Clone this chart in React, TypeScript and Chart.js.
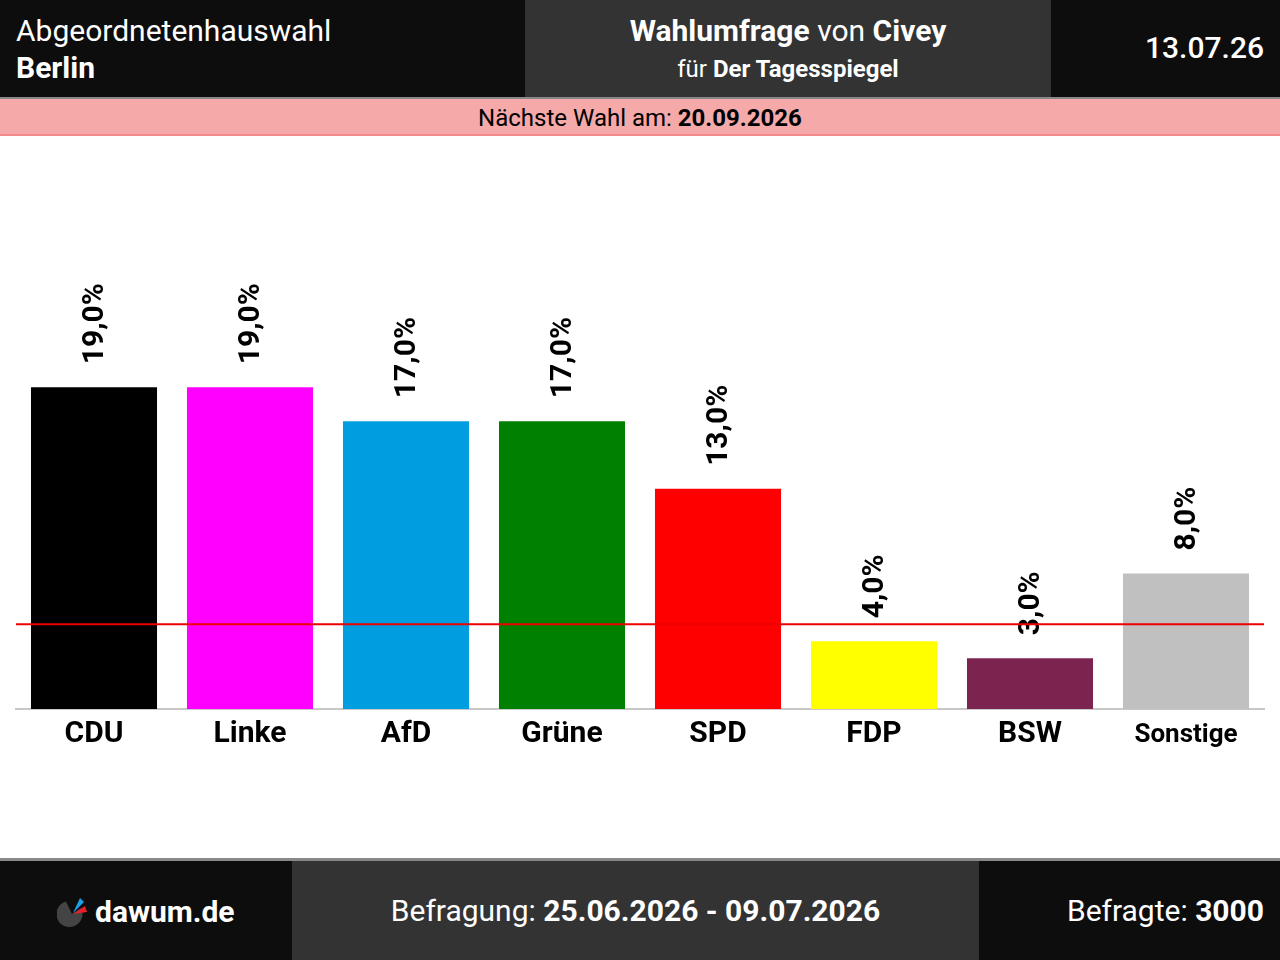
import React, { useEffect, useRef } from "react";
import { Chart, registerables } from "chart.js";

Chart.register(...registerables);

const parties = ["CDU", "Linke", "AfD", "Grüne", "SPD", "FDP", "BSW", "Sonstige"];
const shares = [19, 19, 17, 17, 13, 4, 3, 8];
const barColors = ["#000000", "#ff00ff", "#009ee0", "#008000", "#ff0000", "#ffff00", "#7b2450", "#c0c0c0"];
const threshold = 5;
const yMax = 30;

const FONT = "Roboto, 'Noto Sans', sans-serif";

const fmt = (v: number) => v.toFixed(1).replace(".", ",") + "%";

const labelsPlugin = {
  id: "valueLabels",
  afterDatasetsDraw(chart: any) {
    const ctx = chart.ctx;
    const meta = chart.getDatasetMeta(0);
    ctx.save();
    ctx.fillStyle = "#000";
    ctx.font = `bold 30px ${FONT}`;
    ctx.textAlign = "left";
    ctx.textBaseline = "middle";
    meta.data.forEach((bar: any, i: number) => {
      ctx.save();
      ctx.translate(bar.x, bar.y - 23);
      ctx.rotate(-Math.PI / 2);
      ctx.fillText(fmt(shares[i]), 0, 1);
      ctx.restore();
    });
    // 5% threshold
    const y = chart.scales.y.getPixelForValue(threshold);
    const { left, right } = chart.chartArea;
    ctx.strokeStyle = "#ee0000";
    ctx.lineWidth = 2;
    ctx.beginPath();
    ctx.moveTo(left, y);
    ctx.lineTo(right, y);
    ctx.stroke();
    ctx.restore();
  },
};

const PollChart: React.FC = () => {
  const ref = useRef<HTMLCanvasElement | null>(null);

  useEffect(() => {
    if (!ref.current) return;
    const chart = new Chart(ref.current, {
      type: "bar",
      data: {
        labels: parties,
        datasets: [
          {
            data: shares,
            backgroundColor: barColors,
            categoryPercentage: 1,
            barPercentage: 0.808,
          },
        ],
      },
      options: {
        animation: false,
        responsive: false,
        layout: { padding: { left: 16, right: 16, top: 64, bottom: 96 } },
        plugins: { legend: { display: false }, tooltip: { enabled: false } },
        scales: {
          y: { display: false, min: 0, max: yMax },
          x: {
            grid: { display: false, drawTicks: false },
            border: { color: "#c8c8c8", width: 2 },
            ticks: {
              color: "#000",
              padding: 7,
              maxRotation: 0,
              font: (c: any) =>
                c.index === 7
                  ? { family: FONT, size: 26, weight: "bold", lineHeight: 1.5 }
                  : { family: FONT, size: 30, weight: "bold" },
            },
          },
        },
      },
      plugins: [labelsPlugin],
    });
    return () => chart.destroy();
  }, []);

  return <canvas ref={ref} width={1280} height={721} style={{ position: "absolute", left: 0, top: 137 }} />;
};

const Logo = () => (
  <svg width="32" height="34" viewBox="0 0 32 34" style={{ position: "absolute", left: 57, top: 896 }}>
    <path d="M15 18 L24 12 A13 13 0 1 1 9 5.5 Z" fill="#444" />
    <path d="M16 17 L23 2 L27 6 Z" fill="#1ea0e6" />
    <path d="M16 18 L28 10 L30 16 Z" fill="#e81e2a" />
  </svg>
);

export default function App() {
  const box = (left: number, width: number, top: number, height: number, bg: string): React.CSSProperties => ({
    position: "absolute",
    left,
    width,
    top,
    height,
    background: bg,
  });
  return (
    <div style={{ position: "absolute", left: 0, top: 0, width: 1280, height: 960, background: "#fff", fontFamily: FONT, overflow: "hidden" }}>
      {/* header */}
      <div style={box(0, 525, 0, 97, "#0d0d0d")} />
      <div style={box(525, 526, 0, 97, "#333333")} />
      <div style={box(1051, 229, 0, 97, "#0d0d0d")} />
      <div style={{ position: "absolute", left: 16, top: 12, color: "#fff", fontSize: 30, lineHeight: "37px" }}>
        Abgeordnetenhauswahl
        <br />
        <b>Berlin</b>
      </div>
      <div style={{ position: "absolute", left: 525, width: 526, top: 12, color: "#fff", textAlign: "center" }}>
        <div style={{ fontSize: 30, lineHeight: "37px" }}>
          <b>Wahlumfrage</b> von <b>Civey</b>
        </div>
        <div style={{ fontSize: 24, lineHeight: "40px" }}>
          für <b>Der Tagesspiegel</b>
        </div>
      </div>
      <div style={{ position: "absolute", right: 16, top: 29, color: "#fff", fontSize: 30, fontWeight: 500, lineHeight: "37px" }}>
        13.07.26
      </div>
      <div style={box(0, 1280, 97, 2, "#888")} />
      <div style={{ ...box(0, 1280, 99, 35, "#f5a9a9"), borderBottom: "2px solid #f08a8a", textAlign: "center", fontSize: 24, lineHeight: "38px", color: "#000" }}>
        Nächste Wahl am: <b>20.09.2026</b>
      </div>

      <PollChart />

      {/* footer */}
      <div style={box(0, 1280, 858, 3, "#888")} />
      <div style={box(0, 292, 861, 99, "#0d0d0d")} />
      <div style={box(292, 687, 861, 99, "#333333")} />
      <div style={box(979, 301, 861, 99, "#0d0d0d")} />
      <Logo />
      <div style={{ position: "absolute", left: 95, top: 892, color: "#fff", fontSize: 30, fontWeight: "bold", lineHeight: "40px" }}>
        dawum.de
      </div>
      <div style={{ position: "absolute", left: 292, width: 687, top: 890, color: "#fff", fontSize: 30, lineHeight: "42px", textAlign: "center" }}>
        Befragung: <b>25.06.2026 - 09.07.2026</b>
      </div>
      <div style={{ position: "absolute", right: 16, top: 890, color: "#fff", fontSize: 30, lineHeight: "42px" }}>
        Befragte: <b>3000</b>
      </div>
    </div>
  );
}
